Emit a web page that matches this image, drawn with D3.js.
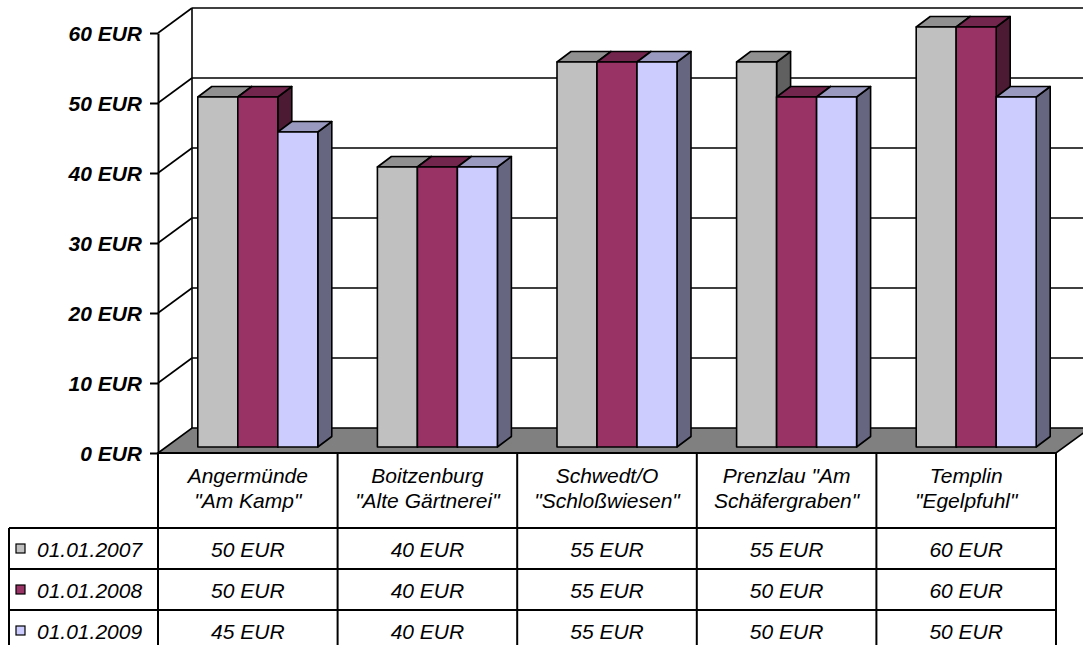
<!DOCTYPE html>
<html>
<head>
<meta charset="utf-8">
<script src="https://cdn.jsdelivr.net/npm/d3@7"></script>
<style>
  html, body { margin: 0; padding: 0; background: #fff; }
  svg { display: block; font-family: "Liberation Sans", Arial, sans-serif; }
</style>
</head>
<body>
<svg id="chart" width="1083" height="645"></svg>
<script>
// Locations (two-line labels as printed under the bars)
const categories = [
  "Angermünde \"Am Kamp\"",
  "Boitzenburg \"Alte Gärtnerei\"",
  "Schwedt/O \"Schloßwiesen\"",
  "Prenzlau \"Am Schäfergraben\"",
  "Templin \"Egelpfuhl\""
];
const categoryLines = [
  ["Angermünde", "\"Am Kamp\""],
  ["Boitzenburg", "\"Alte Gärtnerei\""],
  ["Schwedt/O", "\"Schloßwiesen\""],
  ["Prenzlau \"Am", "Schäfergraben\""],
  ["Templin", "\"Egelpfuhl\""]
];
const seriesNames = ["01.01.2007", "01.01.2008", "01.01.2009"];
const values2007 = [50, 40, 55, 55, 60];
const values2008 = [50, 40, 55, 50, 60];
const values2009 = [45, 40, 55, 50, 50];
const seriesValues = [values2007, values2008, values2009];
const tickValues = [0, 10, 20, 30, 40, 50, 60];
const seriesColors = ["#C0C0C0", "#993366", "#CCCCFF"];

const fmt = v => v + " EUR";
const svg = d3.select("#chart");
const W = 1083;

// Plot geometry: front plane of the floor, depth vector of the box
const left = 158, right = 1056;
const depthX = 34, depthY = 25;
const y = d3.scaleLinear().domain([0, 60]).range([453, 33]);
const x0 = d3.scaleBand().domain(categories).range([left, right]);
const barW = 40;
const groupW = barW * seriesNames.length;
const x1 = d3.scaleBand().domain(seriesNames).range([0, groupW]);
// bars stand a little behind the front edge of the floor and are this deep
const barOffX = 10, barOffY = 6;
const barDX = 14, barDY = 10.5;

const stroke = "#000";
const shade = (c, k) => { const r = d3.rgb(c); return d3.rgb(r.r * k, r.g * k, r.b * k).formatHex(); };

// Back wall gridlines and their side-wall diagonals
const grid = svg.append("g").attr("stroke", stroke).attr("stroke-width", 1.6).attr("fill", "none");
tickValues.filter(v => v > 0).forEach(v => {
  const yb = y(v) - depthY;
  grid.append("line").attr("x1", left + depthX).attr("x2", W + 10).attr("y1", yb).attr("y2", yb);
  grid.append("line").attr("x1", left).attr("y1", y(v)).attr("x2", left + depthX).attr("y2", yb);
});
// back wall left edge
grid.append("line").attr("x1", left + depthX).attr("x2", left + depthX)
  .attr("y1", y(60) - depthY).attr("y2", y(0) - depthY);

// Floor
svg.append("polygon")
  .attr("points", [[left, y(0)], [left + depthX, y(0) - depthY], [right + depthX, y(0) - depthY], [right, y(0)]].map(p => p.join(",")).join(" "))
  .attr("fill", "#808080").attr("stroke", stroke).attr("stroke-width", 1.6);

// Bars
const bars = svg.append("g").attr("stroke", stroke).attr("stroke-width", 1.6).attr("stroke-linejoin", "round");
categories.forEach((cat, i) => {
  const gx = x0(cat) + (x0.bandwidth() - groupW) / 2 + barOffX;
  seriesNames.forEach((s, j) => {
    const v = seriesValues[j][i];
    const c = seriesColors[j];
    const xl = gx + x1(s), xr = xl + x1.bandwidth();
    const yt = y(v) - barOffY, yb = y(0) - barOffY;
    const g = bars.append("g");
    g.append("polygon").attr("fill", shade(c, 0.5))
      .attr("points", [[xr, yt], [xr + barDX, yt - barDY], [xr + barDX, yb - barDY], [xr, yb]].map(p => p.join(",")).join(" "));
    g.append("polygon").attr("fill", shade(c, 0.75))
      .attr("points", [[xl, yt], [xl + barDX, yt - barDY], [xr + barDX, yt - barDY], [xr, yt]].map(p => p.join(",")).join(" "));
    g.append("rect").attr("fill", c).attr("x", xl).attr("y", yt).attr("width", xr - xl).attr("height", yb - yt);
  });
});

// Value axis
const axis = d3.axisLeft(y).tickValues(tickValues).tickFormat(fmt).tickSize(8).tickSizeOuter(0).tickPadding(8);
const ag = svg.append("g").attr("transform", `translate(${left},0)`).call(axis);
ag.select(".domain").attr("stroke", stroke).attr("stroke-width", 2);
ag.selectAll(".tick line").attr("stroke", stroke).attr("stroke-width", 2);
ag.selectAll(".tick text")
  .attr("font-family", "\"Liberation Sans\", Arial, sans-serif")
  .attr("font-size", 21).attr("font-weight", "bold").attr("font-style", "italic")
  .attr("fill", "#000").attr("dy", "0.36em");

// Data table
const rowBand = d3.scaleBand().domain(seriesNames).range([528, 651]);
const table = svg.append("g").attr("stroke", stroke).attr("stroke-width", 2);
x0.domain().concat([null]).forEach((cat, i) => {
  const xx = cat === null ? right : x0(cat);
  table.append("line").attr("x1", xx).attr("x2", xx).attr("y1", y(0)).attr("y2", 660);
});
table.append("line").attr("x1", 9).attr("x2", 9).attr("y1", 528).attr("y2", 660);
table.append("line").attr("x1", left).attr("x2", right).attr("y1", y(0)).attr("y2", y(0));
seriesNames.forEach(s => {
  table.append("line").attr("x1", 9).attr("x2", right).attr("y1", rowBand(s)).attr("y2", rowBand(s));
});

const txt = svg.append("g").attr("font-size", 21).attr("font-style", "italic").attr("fill", "#000");
// category labels
categories.forEach((cat, i) => {
  const cx = x0(cat) + x0.bandwidth() / 2;
  categoryLines[i].forEach((ln, k) => {
    txt.append("text").attr("x", cx).attr("y", 483 + k * 25).attr("text-anchor", "middle").text(ln);
  });
});
// legend keys, series names and values
seriesNames.forEach((s, j) => {
  const cy = rowBand(s) + rowBand.bandwidth() / 2;
  svg.append("rect").attr("x", 16).attr("y", cy - 4.5).attr("width", 9).attr("height", 9)
    .attr("fill", seriesColors[j]).attr("stroke", stroke).attr("stroke-width", 1.2);
  txt.append("text").attr("x", 37).attr("y", cy + 8).text(s);
  categories.forEach((cat, i) => {
    txt.append("text").attr("x", x0(cat) + x0.bandwidth() / 2).attr("y", cy + 8)
      .attr("text-anchor", "middle").text(fmt(seriesValues[j][i]));
  });
});
</script>
</body>
</html>
